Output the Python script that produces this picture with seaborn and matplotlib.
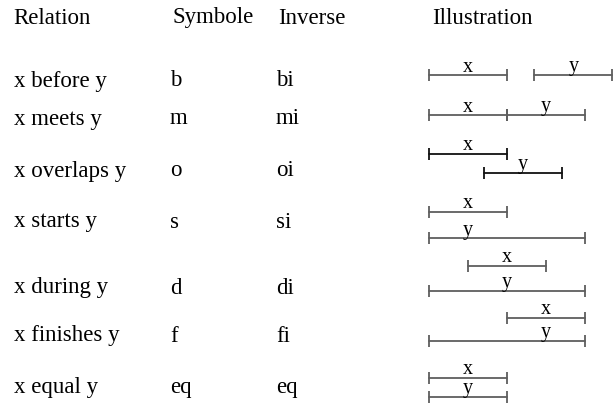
import pandas as pd
import matplotlib
matplotlib.use("Agg")
import matplotlib.pyplot as plt
import seaborn as sns

# table content
relations = ["x before y", "x meets y", "x overlaps y", "x starts y",
             "x during y", "x finishes y", "x equal y"]
symbols = ["b", "m", "o", "s", "d", "f", "eq"]
inverses = ["bi", "mi", "oi", "si", "di", "fi", "eq"]
headers = ["Relation", "Symbole", "Inverse", "Illustration"]

# intervals (in abstract time units)
x_start = [0, 0, 0, 0, 1, 2, 0]
x_end = [2, 2, 2, 2, 3, 4, 2]
y_start = [2.7, 2, 1.4, 0, 0, 0, 0]
y_end = [4.7, 4, 3.4, 4, 4, 4, 2]
inks = ["gray", "gray", "black", "gray", "gray", "gray", "gray"]

# layout (pixels)
W, H = 615, 405
header_y = 18
header_x = [13, 172, 278, 432]
col_x = [14, 170, 276]
row_y = [81, 119, 171, 222, 288, 336, 387]
xbar_y = [75, 115, 154, 212, 266, 318, 378]
ybar_y = [75, 115, 173, 238, 291, 341, 397]
ORIGIN_PX, UNIT_PX = 429, 39
ILL_LEFT = 400

sns.set_theme(style="white")
plt.rcParams["font.family"] = ["Liberation Serif", "DejaVu Serif"]

fig = plt.figure(figsize=(W / 100, H / 100), dpi=100)
ax = fig.add_axes([0, 0, 1, 1])
ax.set_xlim(0, W)
ax.set_ylim(H, 0)
ax.axis("off")

main_fs = 16.5
for cx, h in zip(header_x, headers):
    ax.text(cx, header_y, h, fontsize=main_fs, va="center", ha="left", color="black")
for i in range(len(relations)):
    ax.text(col_x[0], row_y[i], relations[i], fontsize=main_fs, va="center", color="black")
    ax.text(col_x[1], row_y[i], symbols[i], fontsize=main_fs, va="center", color="black")
    ax.text(col_x[2], row_y[i], inverses[i], fontsize=main_fs, va="center", color="black")

# illustration panel
ax2 = fig.add_axes([ILL_LEFT / W, 0, (W - ILL_LEFT) / W, 1])
ax2.set_xlim((ILL_LEFT - ORIGIN_PX) / UNIT_PX, (W - ORIGIN_PX) / UNIT_PX)
ax2.set_ylim(H, 0)
ax2.axis("off")
ax2.patch.set_alpha(0)

rows = []
for i in range(len(relations)):
    for name, s, e, yy in (("x", x_start[i], x_end[i], xbar_y[i]),
                           ("y", y_start[i], y_end[i], ybar_y[i])):
        rows.append({"bar": f"{i}{name}", "pos": s, "ypix": yy, "ink": inks[i]})
        rows.append({"bar": f"{i}{name}", "pos": e, "ypix": yy, "ink": inks[i]})
bars = pd.DataFrame(rows)
palette = {"gray": "#5e5e5e", "black": "#111111"}

sns.lineplot(data=bars, x="pos", y="ypix", units="bar", estimator=None, hue="ink",
             palette=palette, linewidth=1.3, legend=False, ax=ax2)
sns.scatterplot(data=bars, x="pos", y="ypix", hue="ink", palette=palette, marker="|",
                s=75, linewidth=1.3, legend=False, ax=ax2, clip_on=False)

# labels: y's label sits over x when y contains x
for i in range(len(relations)):
    xm = (x_start[i] + x_end[i]) / 2
    contains = y_start[i] <= x_start[i] and y_end[i] >= x_end[i]
    ym = xm if contains else (y_start[i] + y_end[i]) / 2
    ax2.text(xm, xbar_y[i] - 3.5, "x", fontsize=14.5, ha="center", va="baseline", color="black")
    ax2.text(ym, ybar_y[i] - 3.5, "y", fontsize=14.5, ha="center", va="baseline", color="black")

fig.savefig("out.png", dpi=100)
